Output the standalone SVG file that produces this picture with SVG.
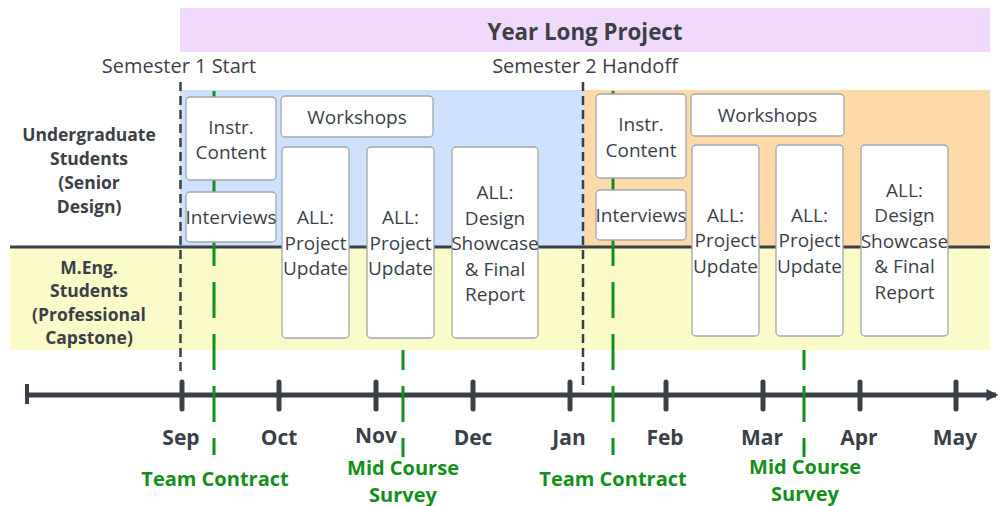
<svg xmlns="http://www.w3.org/2000/svg" width="1000" height="506" viewBox="0 0 1000 506">
<defs>
<style>
text{font-family:"Open Sans","Liberation Sans",sans-serif;fill:#3b3f48;text-anchor:middle}
.b{font-weight:bold}
.box{fill:#fff;stroke:#a3a7ad;stroke-width:1.3}
.bt{font-size:19px}
.row{font-size:17.5px;font-weight:bold}
.mon{font-size:21px;font-weight:bold}
.gt{font-size:20px;font-weight:bold;fill:#12901a}
.sem{font-size:20px}
.gd{stroke:#12901a;stroke-width:3;stroke-dasharray:36 16;fill:none}
.kd{stroke:#3b3f48;stroke-width:2.5;stroke-dasharray:9 5;fill:none}
.tick{stroke:#3b3f48;stroke-width:5;stroke-linecap:round}
</style>
<marker id="arr" viewBox="0 0 10 10" refX="8" refY="5" markerWidth="2.4" markerHeight="2.4" orient="auto" markerUnits="strokeWidth">
<path d="M0,0 L10,5 L0,10 z" fill="#3b3f48"/>
</marker>
</defs>

<g id="backgrounds">
<rect x="180" y="8" width="810" height="44" fill="#f1d9fb"/>
<rect x="180" y="90" width="404" height="157" fill="#cfe2fd"/>
<rect x="584" y="90" width="406" height="157" fill="#fddaa8"/>
<rect x="10" y="247" width="980" height="103" fill="#fbfac9"/>
<line x1="10" y1="247" x2="990" y2="247" stroke="#3b3f48" stroke-width="3"/>
</g>

<g id="title">
<text x="585" y="40" class="b" style="font-size:22.3px">Year Long Project</text>
</g>

<g id="row-labels">
<text class="row" x="89" y="141">Undergraduate</text>
<text class="row" x="89" y="165">Students</text>
<text class="row" x="89" y="189">(Senior</text>
<text class="row" x="89" y="213">Design)</text>
<text class="row" x="89" y="274">M.Eng.</text>
<text class="row" x="89" y="297">Students</text>
<text class="row" x="89" y="321">(Professional</text>
<text class="row" x="89" y="344">Capstone)</text>
</g>

<g id="timeline">
<line x1="28" y1="395" x2="996" y2="395" stroke="#3b3f48" stroke-width="5" marker-end="url(#arr)"/>
<line x1="27" y1="384" x2="27" y2="404" stroke="#3b3f48" stroke-width="4"/>
<line class="tick" x1="182" y1="382" x2="182" y2="409"/>
<line class="tick" x1="279" y1="382" x2="279" y2="409"/>
<line class="tick" x1="376" y1="382" x2="376" y2="409"/>
<line class="tick" x1="473" y1="382" x2="473" y2="409"/>
<line class="tick" x1="570" y1="382" x2="570" y2="409"/>
<line class="tick" x1="666" y1="382" x2="666" y2="409"/>
<line class="tick" x1="763" y1="382" x2="763" y2="409"/>
<line class="tick" x1="860" y1="382" x2="860" y2="409"/>
<line class="tick" x1="956" y1="382" x2="956" y2="409"/>
<text class="mon" x="181" y="445">Sep</text>
<text class="mon" x="279" y="445">Oct</text>
<text class="mon" x="376" y="443">Nov</text>
<text class="mon" x="473" y="445">Dec</text>
<text class="mon" x="569" y="445">Jan</text>
<text class="mon" x="665" y="445">Feb</text>
<text class="mon" x="762" y="445">Mar</text>
<text class="mon" x="859" y="445">Apr</text>
<text class="mon" x="955" y="445">May</text>
</g>

<g id="connectors">
<line class="kd" x1="180.5" y1="82" x2="180.5" y2="374"/>
<line class="kd" x1="583" y1="82" x2="583" y2="388"/>
<line class="gd" x1="214" y1="91" x2="214" y2="455" stroke-dashoffset="17"/>
<line class="gd" x1="613" y1="91" x2="613" y2="455" stroke-dashoffset="17"/>
<line class="gd" x1="403" y1="350" x2="403" y2="457" stroke-dashoffset="16"/>
<line class="gd" x1="804" y1="350" x2="804" y2="457" stroke-dashoffset="16"/>
</g>

<g id="semester-labels">
<text class="sem" x="179" y="73">Semester 1 Start</text>
<text class="sem" x="585" y="73">Semester 2 Handoff</text>
</g>

<g id="s1-instr">
<rect class="box" x="186" y="97" width="90" height="83" rx="4"/>
<text class="bt" x="231" y="134">Instr.</text>
<text class="bt" x="231" y="159">Content</text>
</g>
<g id="s1-interviews">
<rect class="box" x="186" y="192" width="90" height="50" rx="4"/>
<text class="bt" x="231" y="224">Interviews</text>
</g>
<g id="s1-workshops">
<rect class="box" x="281" y="96" width="152" height="41" rx="4"/>
<text class="bt" x="357" y="124">Workshops</text>
</g>
<g id="s1-update1">
<rect class="box" x="282" y="147" width="67" height="191" rx="4"/>
<text class="bt" x="315.5" y="224">ALL:</text>
<text class="bt" x="315.5" y="250">Project</text>
<text class="bt" x="315.5" y="275">Update</text>
</g>
<g id="s1-update2">
<rect class="box" x="367" y="147" width="67" height="191" rx="4"/>
<text class="bt" x="400.5" y="224">ALL:</text>
<text class="bt" x="400.5" y="250">Project</text>
<text class="bt" x="400.5" y="275">Update</text>
</g>
<g id="s1-showcase">
<rect class="box" x="452" y="147" width="86" height="191" rx="4"/>
<text class="bt" x="495" y="199">ALL:</text>
<text class="bt" x="495" y="225">Design</text>
<text class="bt" x="495" y="250">Showcase</text>
<text class="bt" x="495" y="276">&amp; Final</text>
<text class="bt" x="495" y="301">Report</text>
</g>

<g id="s2-instr">
<rect class="box" x="596" y="94" width="90" height="84" rx="4"/>
<text class="bt" x="641" y="131">Instr.</text>
<text class="bt" x="641" y="157">Content</text>
</g>
<g id="s2-interviews">
<rect class="box" x="596" y="190" width="90" height="50" rx="4"/>
<text class="bt" x="641" y="222">Interviews</text>
</g>
<g id="s2-workshops">
<rect class="box" x="691" y="94" width="153" height="42" rx="4"/>
<text class="bt" x="767.5" y="122">Workshops</text>
</g>
<g id="s2-update1">
<rect class="box" x="692" y="145" width="67" height="191" rx="4"/>
<text class="bt" x="725.5" y="222">ALL:</text>
<text class="bt" x="725.5" y="247">Project</text>
<text class="bt" x="725.5" y="273">Update</text>
</g>
<g id="s2-update2">
<rect class="box" x="776" y="145" width="67" height="191" rx="4"/>
<text class="bt" x="809.5" y="222">ALL:</text>
<text class="bt" x="809.5" y="247">Project</text>
<text class="bt" x="809.5" y="273">Update</text>
</g>
<g id="s2-showcase">
<rect class="box" x="861" y="145" width="87" height="191" rx="4"/>
<text class="bt" x="904.5" y="197">ALL:</text>
<text class="bt" x="904.5" y="222">Design</text>
<text class="bt" x="904.5" y="248">Showcase</text>
<text class="bt" x="904.5" y="273">&amp; Final</text>
<text class="bt" x="904.5" y="299">Report</text>
</g>

<g id="milestones">
<text class="gt" x="215" y="486">Team Contract</text>
<text class="gt" x="613" y="486">Team Contract</text>
<text class="gt" x="403" y="475">Mid Course</text>
<text class="gt" x="403" y="502">Survey</text>
<text class="gt" x="805" y="474">Mid Course</text>
<text class="gt" x="805" y="501">Survey</text>
</g>
</svg>
